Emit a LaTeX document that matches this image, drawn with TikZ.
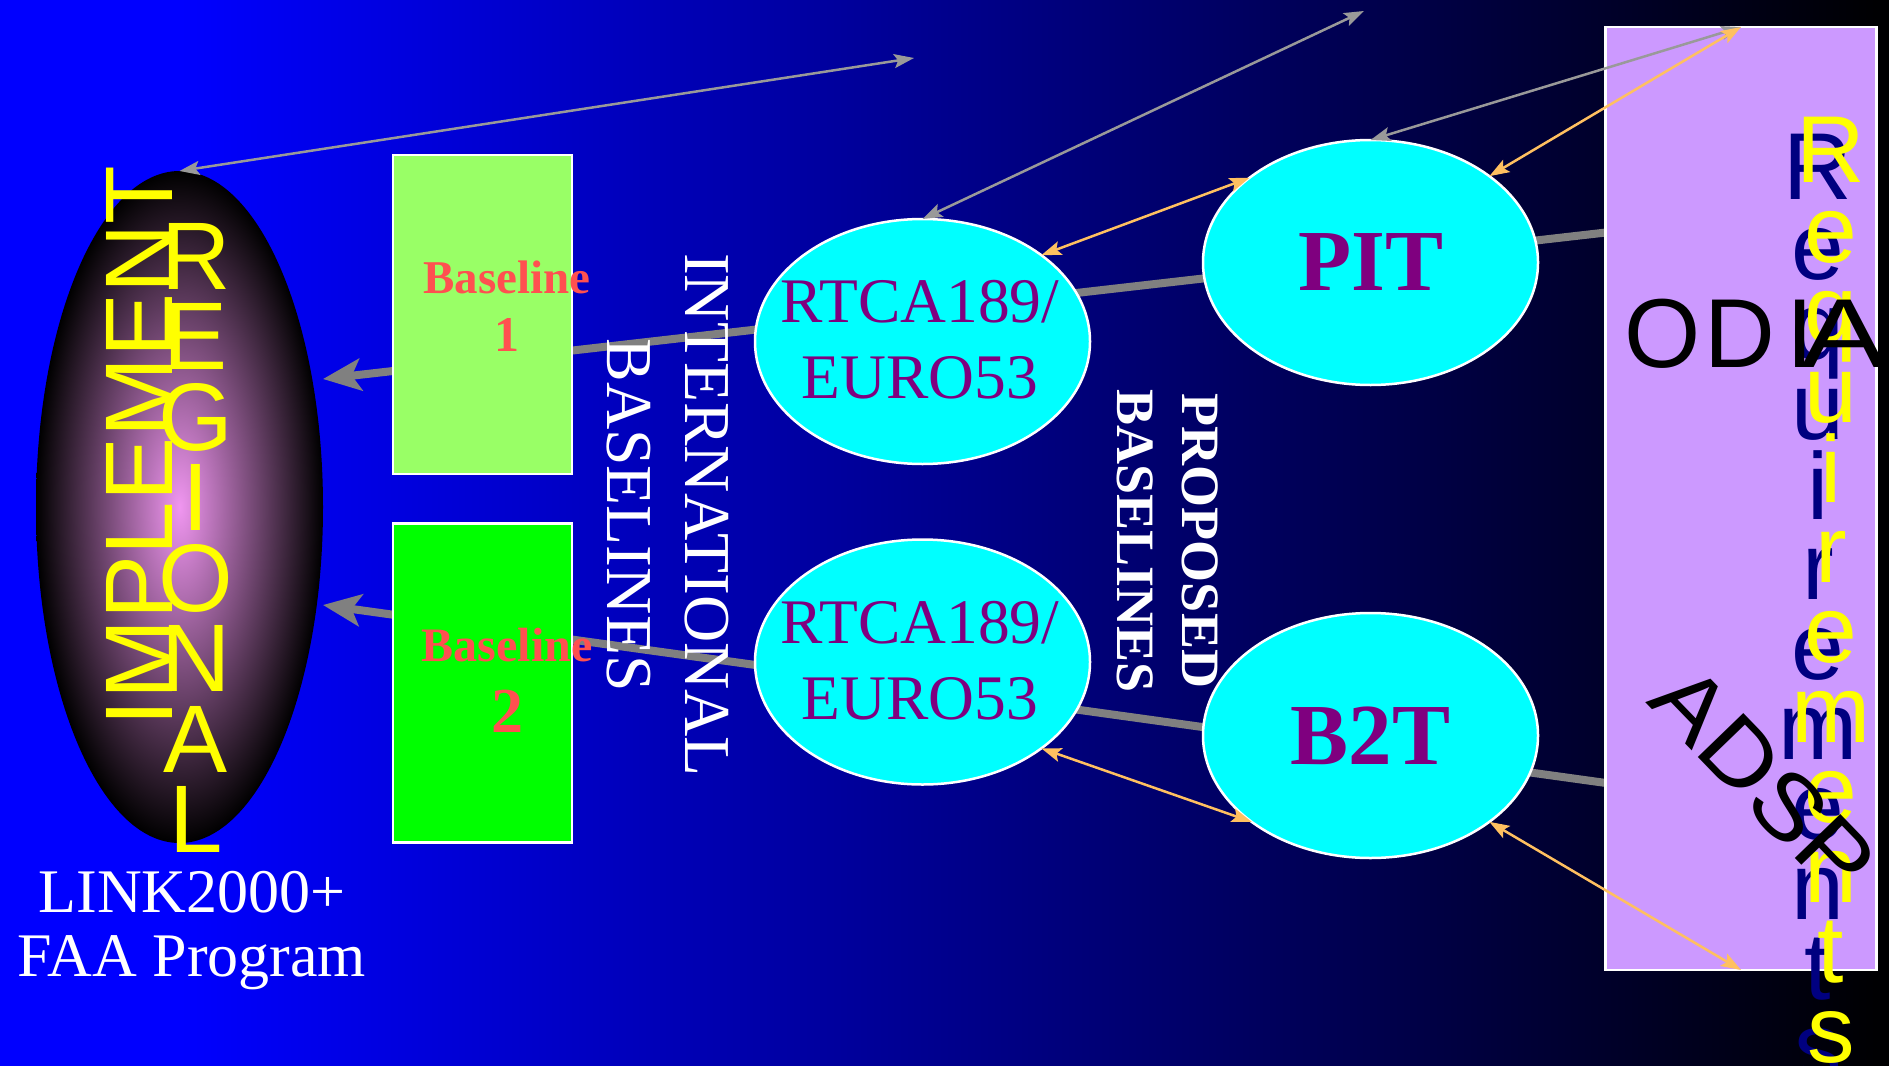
\documentclass[tikz,border=0pt]{standalone}
\usepackage{fontspec}
\usepackage{graphicx}
\setmainfont{Liberation Serif}
\newfontfamily\arialf{Liberation Sans}
\usetikzlibrary{arrows.meta,shapes.geometric}
\definecolor{bgblue}{HTML}{0000FF}
\definecolor{thickgray}{HTML}{808080}
\definecolor{thingray}{HTML}{999999}
\definecolor{orangec}{HTML}{FFC060}
\definecolor{cyanc}{HTML}{00FFFF}
\definecolor{purplec}{HTML}{7F007F}
\definecolor{lightgreen}{HTML}{99FF66}
\definecolor{greenc}{HTML}{00FF00}
\definecolor{redtext}{HTML}{FF5050}
\definecolor{lavender}{HTML}{CC99FF}
\definecolor{navyc}{HTML}{000080}
\definecolor{yellowc}{HTML}{FFFF00}
\definecolor{pinkc}{HTML}{F096F0}
\begin{document}
\begin{tikzpicture}[x=1pt,y=-1pt,
  bubble/.style={ellipse, draw=white, line width=2.5pt, fill=cyanc, inner sep=0pt, outer sep=0pt, minimum width=335pt, minimum height=245pt},
  blbox/.style={draw=white, line width=2.5pt, inner sep=0pt, outer sep=0pt, minimum width=179pt, minimum height=319pt},
  txt/.style={inner sep=0pt, outer sep=0pt},
  thickline/.style={draw=thickgray, line width=8pt, -{Stealth[length=38pt,width=32pt,inset=9pt]}},
  thinarrow/.style={line width=2.5pt, {Stealth[length=20pt,width=14pt,inset=4pt]}-{Stealth[length=20pt,width=14pt,inset=4pt]}}]
\useasboundingbox (0,0) rectangle (1889,1065);
% background
\fill[bgblue] (-10,-10) rectangle (181,1080);
\shade[left color=bgblue, right color=black] (180,-10) rectangle (1889,1080);
\fill[black] (1888,-10) rectangle (1900,1080);
% thick connectors (behind the nodes)
\coordinate (g1s) at (1606,232.5);
\coordinate (g1e) at (323,379);
\coordinate (g2s) at (1606,783);
\coordinate (g2e) at (323,605);
\draw[thickline] (g1s) -- (g1e);
\draw[thickline] (g2s) -- (g2e);
% nodes
\node[ellipse, inner sep=0pt, outer sep=0pt, minimum width=287pt, minimum height=672pt, inner color=pinkc, outer color=black] (region) at (179.5,507) {};
\node[blbox, fill=lightgreen] (bl1) at (482.5,314.5) {};
\node[blbox, fill=greenc] (bl2) at (482.5,683) {};
\node[bubble] (rtca1) at (922.5,341.5) {};
\node[bubble] (rtca2) at (922.5,662) {};
\node[bubble, text=purplec, font=\bfseries\fontsize{87}{87}\selectfont] (pit) at (1370.5,262.5) {PIT};
\node[bubble, text=purplec, font=\bfseries\fontsize{87}{87}\selectfont] (b2t) at (1370.5,735.5) {B2T};
\node[draw=white, line width=2.5pt, fill=lavender, inner sep=0pt, outer sep=0pt, minimum width=271pt, minimum height=943pt] (odia) at (1741,498.5) {};
% texts
\node[txt, rotate=90, anchor=base, text=yellowc, font=\arialf\fontsize{96}{96}\selectfont] (impl) at (172,446) {IMPLEMENT};
\node[txt, anchor=north, align=center, text=yellowc, font=\arialf\fontsize{96}{80.5}\selectfont] (regl) at (196,223) {R\\E\\G\\I\\O\\N\\A\\L};
\node[txt, anchor=north, align=center, text=white, font=\fontsize{62}{64}\selectfont] (link) at (192,871) {LINK2000+\\FAA Program};
\node[txt, anchor=north, align=center, text=redtext, font=\bfseries\fontsize{47}{58}\selectfont] (bl1t) at (507,261) {Baseline\\{\fontsize{50}{58}\selectfont 1}};
\node[txt, anchor=north, align=center, text=redtext, font=\bfseries\fontsize{48}{71}\selectfont] (bl2t) at (507,628.5) {Baseline\\{\fontsize{64}{71}\selectfont 2}};
\node[txt, rotate=-90, align=center, text=white, font=\fontsize{65.5}{78}\selectfont] (intl) at (668,515) {INTERNATIONAL\\BASELINES};
\node[txt, rotate=-90, align=center, text=white, font=\bfseries\fontsize{54}{65}\selectfont] (prop) at (1167.5,541) {PROPOSED\\BASELINES};
\node[txt, align=center, text=purplec, font=\fontsize{63.5}{76}\selectfont] (rtca1t) at (920,340) {RTCA189/\\EURO53};
\node[txt, align=center, text=purplec, font=\fontsize{63.5}{76}\selectfont] (rtca2t) at (920,661) {RTCA189/\\EURO53};
\node[txt, anchor=north, align=center, text=navyc, font=\arialf\fontsize{95}{80}\selectfont] (reqn) at (1818,134) {R\\e\\q\\u\\i\\r\\e\\m\\e\\n\\t\\s};
\node[txt, anchor=north, align=center, text=yellowc, font=\arialf\fontsize{95}{80}\selectfont] (reqy) at (1831,117) {R\\e\\q\\u\\i\\r\\e\\m\\e\\n\\t\\s};
\node[txt, anchor=base west, text=black, font=\arialf\fontsize{98}{98}\selectfont] (odiat) at (1624,367) {O\kern4pt D\kern12pt I\kern-13pt\scalebox{1.3}[1]{A}};
\node[txt, anchor=base, rotate=-46, xscale=1.1, text=black, font=\arialf\fontsize{92}{92}\selectfont] (adsp) at (1741,802) {ADSP};
% thin double-headed connectors
\coordinate (f1) at (914,58);
\coordinate (f2) at (1364,11);
\draw[thinarrow, thingray] (region.north) -- (f1);
\draw[thinarrow, thingray] (rtca1.north) -- (f2);
\draw[thinarrow, thingray] (pit.north) -- (odia.north);
\draw[thinarrow, orangec] (rtca1.36) -- (pit.145);
\draw[thinarrow, orangec] (pit.36) -- (odia.north);
\draw[thinarrow, orangec] (rtca2.-36) -- (b2t.216);
\draw[thinarrow, orangec] (b2t.-36) -- (odia.south);
\end{tikzpicture}
\end{document}
